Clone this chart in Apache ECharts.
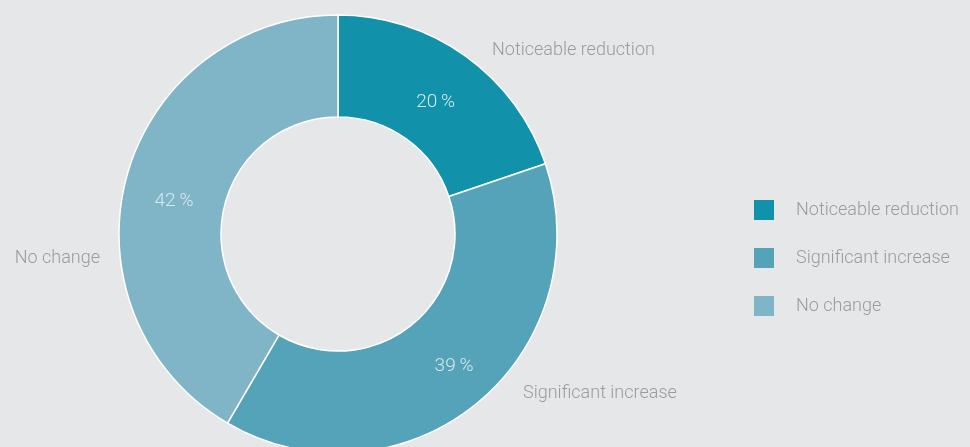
<!DOCTYPE html>
<html>
<head>
<meta charset="utf-8">
<style>
  html, body { margin: 0; padding: 0; background: #e6e7e9; }
  #chart { width: 970px; height: 447px; }
</style>
<script src="https://cdn.jsdelivr.net/npm/echarts@6/dist/echarts.min.js"></script>
</head>
<body>
<div id="chart"></div>
<script>
// Survey answers and their shares (percent)
const categories = ['Noticeable reduction', 'Significant increase', 'No change'];
const shares = [20, 39, 42];
const sliceColors = ['#1192aa', '#55a3b8', '#7fb5c6'];

const CX = 338, CY = 234;
// Position of each category name relative to the pie centre: [dx, dy, align]
const nameOffsets = [
  [154, -184, 'left'],
  [185, 159, 'left'],
  [-238, 24, 'right']
];
// Nudge applied to the percentage labels: [dx, dy]
const pctNudge = [
  [-2, 7],
  [8, 0],
  [1, 12]
];

const pieData = categories.map((name, i) => ({
  name: name,
  value: shares[i],
  itemStyle: { color: sliceColors[i] }
}));

const chart = echarts.init(document.getElementById('chart'), null, { renderer: 'canvas' });

const baseText = { fontFamily: 'Roboto', fontWeight: 300 };

chart.setOption({
  backgroundColor: '#e6e7e9',
  animation: false,
  legend: {
    orient: 'vertical',
    left: 749,
    top: 191,
    icon: 'rect',
    itemWidth: 20,
    itemHeight: 20,
    itemGap: 20,
    itemStyle: { borderWidth: 0 },
    textStyle: Object.assign({
      color: '#9b9b9b',
      fontSize: 18,
      lineHeight: 20,
      padding: [8, 0, 0, 17]
    }, baseText),
    data: categories
  },
  series: [
    {
      // coloured ring with the category names outside
      type: 'pie',
      center: [CX, CY],
      radius: [117, 219],
      startAngle: 90,
      clockwise: true,
      itemStyle: { borderColor: '#ffffff', borderWidth: 1.5 },
      label: Object.assign({
        show: true,
        position: 'outside',
        formatter: '{b}',
        color: '#9b9b9b',
        fontSize: 18,
        overflow: 'none',
        width: 300
      }, baseText),
      labelLine: { show: false },
      labelLayout: function (params) {
        const o = nameOffsets[params.dataIndex];
        return { x: CX + o[0], y: CY + o[1], align: o[2], verticalAlign: 'middle' };
      },
      emphasis: { disabled: true },
      data: pieData
    },
    {
      // same ring, drawn only for the percentage labels
      type: 'pie',
      center: [CX, CY],
      radius: [117, 219],
      startAngle: 90,
      clockwise: true,
      silent: true,
      itemStyle: { color: 'rgba(0,0,0,0)', borderWidth: 0 },
      label: Object.assign({
        show: true,
        position: 'inside',
        formatter: '{c}\u2009%',
        color: '#d6e9ef',
        fontSize: 19
      }, baseText),
      labelLine: { show: false },
      labelLayout: function (params) {
        const n = pctNudge[params.dataIndex];
        return { dx: n[0], dy: n[1] };
      },
      emphasis: { disabled: true },
      data: categories.map((name, i) => ({ name: name, value: shares[i] }))
    }
  ]
});
</script>
</body>
</html>
